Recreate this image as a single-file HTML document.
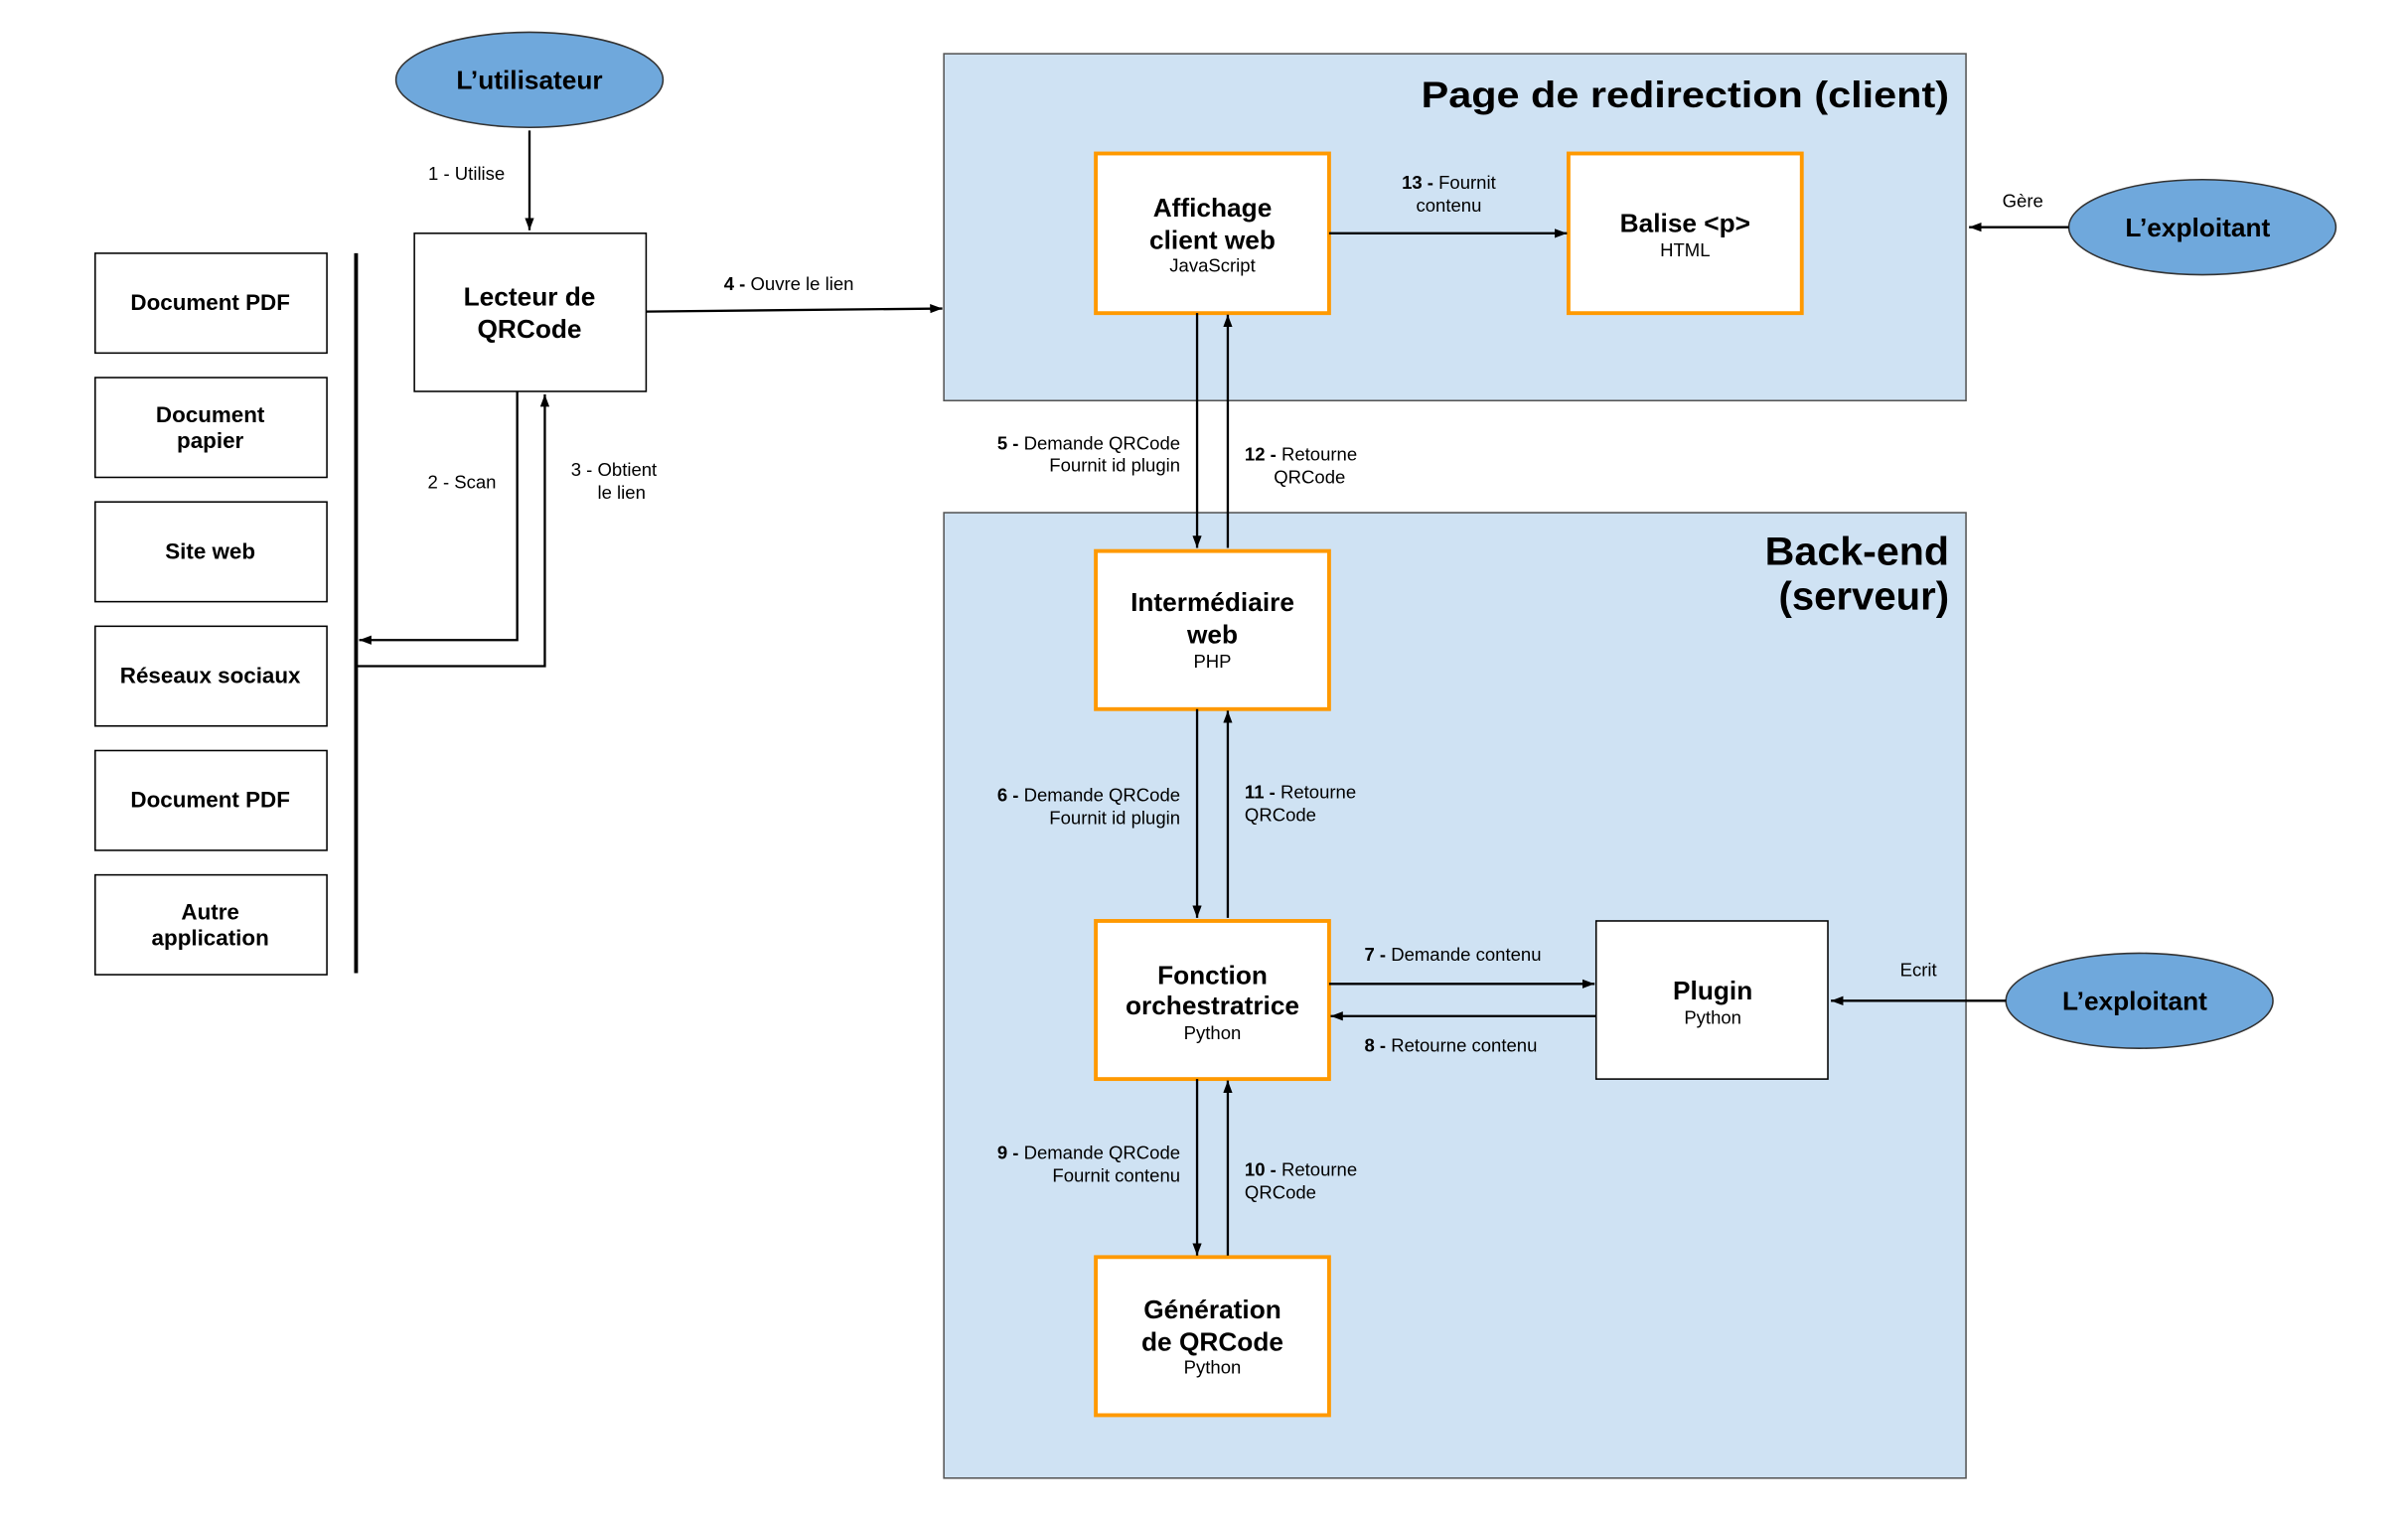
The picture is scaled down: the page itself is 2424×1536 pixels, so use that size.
<!DOCTYPE html>
<html><head><meta charset="utf-8"><style>html,body{margin:0;padding:0;background:#fff}svg{display:block}</style></head>
<body>
<svg width="2424" height="1536" viewBox="0 0 1569 994.2" preserveAspectRatio="none" xmlns="http://www.w3.org/2000/svg" font-family="Liberation Sans, sans-serif">
<defs><marker id="a" markerWidth="8" markerHeight="6" refX="8" refY="3" orient="auto" markerUnits="userSpaceOnUse"><path d="M0,0 L8,3 L0,6 z" fill="#000"/></marker></defs>
<rect width="1569" height="995" fill="#fff"/>
<rect x="615" y="35" width="666" height="226" fill="#cfe2f3" stroke="#555"/>
<rect x="615" y="334" width="666" height="629" fill="#cfe2f3" stroke="#555"/>
<text x="926" y="70" textLength="344" lengthAdjust="spacingAndGlyphs" font-size="24" font-weight="bold">Page de redirection (client)</text>
<text x="1150" y="368" textLength="120" lengthAdjust="spacingAndGlyphs" font-size="26" font-weight="bold">Back-end</text>
<text x="1159" y="397" textLength="111" lengthAdjust="spacingAndGlyphs" font-size="26" font-weight="bold">(serveur)</text>
<g stroke="#333" fill="#6fa8dc"><ellipse cx="345" cy="52" rx="87" ry="31"/><ellipse cx="1435" cy="148" rx="87" ry="31"/><ellipse cx="1394" cy="652" rx="87" ry="31"/></g>
<g font-size="17" font-weight="bold" text-anchor="middle"><text x="345" y="58">L’utilisateur</text><text x="1432" y="154">L’exploitant</text><text x="1391" y="658">L’exploitant</text></g>
<g fill="#fff" stroke="#000"><rect x="270" y="152" width="151" height="103"/><rect x="1040" y="600" width="151" height="103"/>
<rect x="62" y="165" width="151" height="65"/><rect x="62" y="246" width="151" height="65"/><rect x="62" y="327" width="151" height="65"/><rect x="62" y="408" width="151" height="65"/><rect x="62" y="489" width="151" height="65"/><rect x="62" y="570" width="151" height="65"/></g>
<g fill="#fff" stroke="#ff9900" stroke-width="2.5"><rect x="714" y="100" width="152" height="104"/><rect x="1022" y="100" width="152" height="104"/><rect x="714" y="359" width="152" height="103"/><rect x="714" y="600" width="152" height="103"/><rect x="714" y="819" width="152" height="103"/></g>
<g font-size="14.5" font-weight="bold" text-anchor="middle"><text x="137" y="202">Document PDF</text><text x="137" y="275">Document</text><text x="137" y="292">papier</text><text x="137" y="364">Site web</text><text x="137" y="445">Réseaux sociaux</text><text x="137" y="526">Document PDF</text><text x="137" y="599">Autre</text><text x="137" y="616">application</text></g>
<g font-size="17" font-weight="bold" text-anchor="middle"><text x="345" y="199">Lecteur de</text><text x="345" y="220">QRCode</text>
<text x="790" y="141">Affichage</text><text x="790" y="162">client web</text><text x="1098" y="151">Balise &lt;p&gt;</text>
<text x="790" y="398">Intermédiaire</text><text x="790" y="419">web</text><text x="790" y="641">Fonction</text><text x="790" y="661">orchestratrice</text>
<text x="1116" y="651">Plugin</text><text x="790" y="859">Génération</text><text x="790" y="880">de QRCode</text></g>
<g font-size="12" text-anchor="middle"><text x="790" y="177">JavaScript</text><text x="1098" y="167">HTML</text><text x="790" y="435">PHP</text><text x="790" y="677">Python</text><text x="1116" y="667">Python</text><text x="790" y="895">Python</text></g>
<g stroke="#000" stroke-width="1.5" fill="none" marker-end="url(#a)">
<path d="M345,85V150"/><path d="M337,255V417H234"/><path d="M232,434H355V257"/><path d="M421,203L614,201"/>
<path d="M866,152H1021"/><path d="M1348,148H1283"/><path d="M780,204V357"/><path d="M800,357V205"/>
<path d="M780,462V598"/><path d="M800,598V463"/><path d="M866,641H1039"/><path d="M1040,662H867"/><path d="M1307,652H1193"/>
<path d="M780,703V818"/><path d="M800,818V704"/></g>
<line x1="232" y1="165" x2="232" y2="634" stroke="#000" stroke-width="2.5"/>
<g font-size="12">
<text x="304" y="117" text-anchor="middle">1 - Utilise</text>
<text x="301" y="318" text-anchor="middle">2 - Scan</text>
<text x="400" y="310" text-anchor="middle">3 - Obtient</text><text x="405" y="325" text-anchor="middle">le lien</text>
<text x="514" y="189" text-anchor="middle"><tspan font-weight="bold">4 -</tspan> Ouvre le lien</text>
<text x="944" y="123" text-anchor="middle"><tspan font-weight="bold">13 -</tspan>  Fournit</text><text x="944" y="138" text-anchor="middle">contenu</text>
<text x="1318" y="135" text-anchor="middle">Gère</text>
<text x="769" y="293" text-anchor="end"><tspan font-weight="bold">5 -</tspan> Demande QRCode</text><text x="769" y="307" text-anchor="end">Fournit id plugin</text>
<text x="811" y="300"><tspan font-weight="bold">12 -</tspan> Retourne</text><text x="830" y="315">QRCode</text>
<text x="769" y="522" text-anchor="end"><tspan font-weight="bold">6 -</tspan> Demande QRCode</text><text x="769" y="537" text-anchor="end">Fournit id plugin</text>
<text x="811" y="520"><tspan font-weight="bold">11 -</tspan> Retourne</text><text x="811" y="535">QRCode</text>
<text x="889" y="626"><tspan font-weight="bold">7 -</tspan> Demande contenu</text>
<text x="889" y="685"><tspan font-weight="bold">8 -</tspan> Retourne contenu</text>
<text x="1250" y="636" text-anchor="middle">Ecrit</text>
<text x="769" y="755" text-anchor="end"><tspan font-weight="bold">9 -</tspan> Demande QRCode</text><text x="769" y="770" text-anchor="end">Fournit contenu</text>
<text x="811" y="766"><tspan font-weight="bold">10 -</tspan> Retourne</text><text x="811" y="781">QRCode</text>
</g>
</svg>
</body></html>
